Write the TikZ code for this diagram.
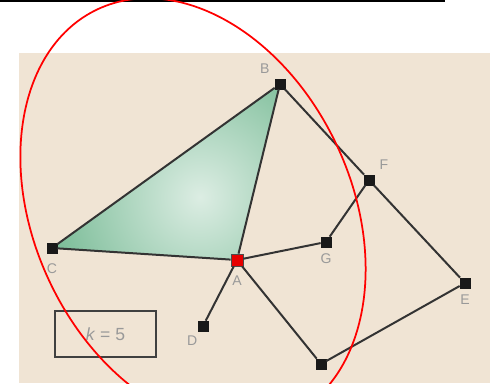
\documentclass[tikz,border=0pt]{standalone}
\usepackage{fontspec}
\setmainfont{Liberation Sans}
\usetikzlibrary{backgrounds}

\definecolor{paper}{RGB}{240,228,212}
\definecolor{leaf}{RGB}{118,186,148}
\definecolor{leaflight}{RGB}{220,237,227}

\begin{document}
\begin{tikzpicture}[
    x=0.02cm, y=0.02cm,
    vertex/.style={rectangle, fill=black!90, draw=black!90, inner sep=0pt, minimum size=0.2cm},
    tag/.style={font=\fontsize{8}{9}\selectfont, text=black!40, inner sep=1pt},
    edge/.style={draw=black!80, line width=0.04cm},
    every label/.style={tag},
    label distance=2.5pt
]
    \useasboundingbox (0,0) rectangle (490,383);
    \clip (0,0) rectangle (490,383);

    \node[vertex, label={above left:B}] (b) at (280,299) {};
    \node[vertex, label={above right:F}] (f) at (369,203) {};
    \node[vertex, label={below:G}] (g) at (326,141) {};
    \node[vertex, minimum size=0.24cm, fill=red!90!black, draw=black!70, label={[label distance=4pt]below:A}] (a) at (237,123) {};
    \node[vertex, label={[label distance=4.5pt]below:C}] (c) at (52,135) {};
    \node[vertex, label={[label distance=1.5pt]-115:D}] (d) at (203,57) {};
    \node[vertex, label={below:E}] (e) at (465,100) {};
    \node[vertex] (h) at (321,19) {};

    \node[draw=black!75, line width=0.045cm, minimum width=2.02cm, minimum height=0.92cm,
          font=\fontsize{10}{11}\selectfont, text=black!40] (keybox) at (105.5,49) {\textit{k} = 5};

    \begin{scope}[on background layer]
        \fill[paper] (19,0) rectangle (490,330);
        \begin{scope}
            \clip (c.center) -- (b.center) -- (a.center) -- cycle;
            \shade[inner color=leaflight, outer color=leaf] (200,186) circle (3.2cm);
        \end{scope}
    \end{scope}

    % graph edges
    \draw[edge] (c) -- (b);
    \draw[edge] (b) -- (a);
    \draw[edge] (a) -- (c);
    \draw[edge] (b) -- (f);
    \draw[edge] (f) -- (g);
    \draw[edge] (g) -- (a);
    \draw[edge] (a) -- (d);
    \draw[edge] (a) -- (h);
    \draw[edge] (h) -- (e);
    \draw[edge] (e) -- (f);

    \draw[black, line width=0.05cm] (0,382) -- (445,382);
    \draw[red, line width=0.035cm, rotate around={25:(193,170)}] (193,170) ellipse (3.18cm and 4.5cm);
\end{tikzpicture}
\end{document}
